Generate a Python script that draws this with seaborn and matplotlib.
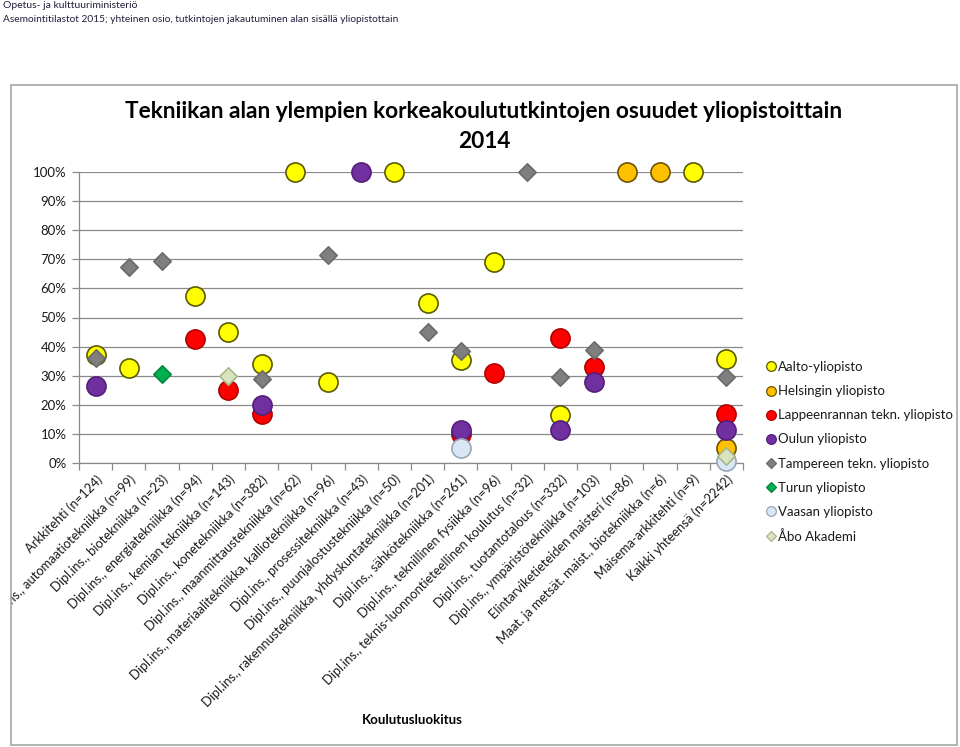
import numpy as np
import pandas as pd
import matplotlib
matplotlib.use('Agg')
import matplotlib.pyplot as plt
import seaborn as sns
from matplotlib.lines import Line2D
from matplotlib.patches import Rectangle
from matplotlib.ticker import FixedLocator, PercentFormatter, NullFormatter

categories = [
    "Arkkitehti (n=124)",
    "Dipl.ins., automaatiotekniikka (n=99)",
    "Dipl.ins., biotekniikka (n=23)",
    "Dipl.ins., energiatekniikka (n=94)",
    "Dipl.ins., kemian tekniikka (n=143)",
    "Dipl.ins., konetekniikka (n=382)",
    "Dipl.ins., maanmittaustekniikka (n=62)",
    "Dipl.ins., materiaalitekniikka, kalliotekniikka (n=96)",
    "Dipl.ins., prosessitekniikka (n=43)",
    "Dipl.ins., puunjalostustekniikka (n=50)",
    "Dipl.ins., rakennustekniikka, yhdyskuntatekniikka (n=201)",
    "Dipl.ins., sähkötekniikka (n=261)",
    "Dipl.ins., teknillinen fysiikka (n=96)",
    "Dipl.ins., teknis-luonnontieteellinen koulutus (n=32)",
    "Dipl.ins., tuotantotalous (n=332)",
    "Dipl.ins., ympäristötekniikka (n=103)",
    "Elintarviketieteiden maisteri (n=86)",
    "Maat. ja metsät. maist., biotekniikka (n=6)",
    "Maisema-arkkitehti (n=9)",
    "Kaikki yhteensä (n=2242)",
]

N = None
aalto =    [0.37, 0.325, N, 0.575, 0.45, 0.34, 1.0, 0.28, N, 1.0, 0.55, 0.355, 0.69, N, 0.165, N, N, N, 1.0, 0.357]
helsinki = [N, N, N, N, N, N, N, N, N, N, N, N, N, N, N, N, 1.0, 1.0, N, 0.05]
lut =      [N, N, N, 0.425, 0.25, 0.167, N, N, N, N, N, 0.10, 0.31, N, 0.43, 0.33, N, N, N, 0.167]
oulu =     [0.265, N, N, N, N, 0.20, N, N, 1.0, N, N, 0.115, N, N, 0.113, 0.28, N, N, N, 0.115]
tampere =  [0.36, 0.675, 0.695, N, N, 0.29, N, 0.715, N, N, 0.45, 0.385, N, 1.0, 0.295, 0.39, N, N, N, 0.295]
turku =    [N, N, 0.305, N, N, N, N, N, N, N, N, N, N, N, N, N, N, N, N, 0.01]
vaasa =    [N, N, N, N, N, N, N, N, N, N, N, 0.05, N, N, N, N, N, N, N, 0.008]
abo =      [N, N, N, N, 0.30, N, N, N, N, N, N, N, N, N, N, N, N, N, N, 0.025]

universities = ["Aalto-yliopisto", "Helsingin yliopisto", "Lappeenrannan tekn. yliopisto",
                "Oulun yliopisto", "Tampereen tekn. yliopisto", "Turun yliopisto",
                "Vaasan yliopisto", "Åbo Akademi"]
series = [aalto, helsinki, lut, oulu, tampere, turku, vaasa, abo]

yticks = [0, 0.1, 0.2, 0.3, 0.4, 0.5, 0.6, 0.7, 0.8, 0.9, 1.0]

styles = {
    "Aalto-yliopisto": dict(marker="o", face="#FFFF00", edge="#5c5a00"),
    "Helsingin yliopisto": dict(marker="o", face="#FFC000", edge="#6e5200"),
    "Lappeenrannan tekn. yliopisto": dict(marker="o", face="#FF0000", edge="#b00000"),
    "Oulun yliopisto": dict(marker="o", face="#7030A0", edge="#55207c"),
    "Tampereen tekn. yliopisto": dict(marker="D", face="#7f7f7f", edge="#6a6a6a"),
    "Turun yliopisto": dict(marker="D", face="#00B050", edge="#00873c"),
    "Vaasan yliopisto": dict(marker="o", face="#D9E7F5", edge="#98a6b6"),
    "Åbo Akademi": dict(marker="D", face="#D7E4BD", edge="#a9b68e"),
}

rows = []
for uni, vals in zip(universities, series):
    for i, v in enumerate(vals):
        if v is not None:
            rows.append(dict(category=categories[i], pos=i, university=uni, share=v))
df = pd.DataFrame(rows)

sns.set_theme(style="white")
plt.rcParams['font.family'] = ['Lato', 'DejaVu Sans']
TXT = "#1a1a1a"
GRID = "#8a8a8a"

W, H = 960, 747
fig = plt.figure(figsize=(W / 100, H / 100), dpi=100)
fig.patch.set_facecolor("white")

# chart frame
frame = Rectangle((11 / W, 1 - 745 / H), (957 - 11) / W, (745 - 85) / H,
                  transform=fig.transFigure, fill=False, edgecolor="#a6a6a6", linewidth=1.2)
fig.add_artist(frame)

ax = fig.add_axes([79 / W, 1 - 463 / H, (743 - 79) / W, (463 - 172) / H])

for z, uni in enumerate(universities):
    st = styles[uni]
    sub = df[df["university"] == uni]
    size = 190 if st["marker"] == "o" else 78
    sns.scatterplot(data=sub, x="pos", y="share", ax=ax, marker=st["marker"],
                    color=st["face"], edgecolor=st["edge"], linewidth=1.2,
                    s=size, zorder=3 + z, clip_on=False, legend=False)

ax.set_xlim(-0.5, len(categories) - 0.5)
ax.set_ylim(0, 1)
ax.yaxis.set_major_locator(FixedLocator(yticks))
ax.yaxis.set_major_formatter(PercentFormatter(1.0, decimals=0))
ax.grid(axis="y", color=GRID, linewidth=0.9)
ax.set_axisbelow(True)

ax.xaxis.set_major_locator(FixedLocator(np.arange(len(categories) + 1) - 0.5))
ax.xaxis.set_major_formatter(NullFormatter())
ax.xaxis.set_minor_locator(FixedLocator(np.arange(len(categories))))
ax.set_xticklabels(categories, minor=True, rotation=45, ha="right",
                   rotation_mode="anchor", fontsize=9.3, color=TXT)
ax.tick_params(axis="x", which="major", length=5, width=0.9, color=GRID, direction="out", bottom=True)
ax.tick_params(axis="x", which="minor", length=0, pad=7, bottom=True)
ax.tick_params(axis="y", which="major", length=5, width=0.9, color=GRID, direction="out",
               left=True, labelsize=9.5, labelcolor=TXT, pad=4)
for sp in ["top", "right"]:
    ax.spines[sp].set_visible(False)
for sp in ["left", "bottom"]:
    ax.spines[sp].set_color(GRID)
    ax.spines[sp].set_linewidth(0.9)
ax.set_xlabel("")
ax.set_ylabel("")

# clip tick labels at frame
clipbox = frame.get_window_extent(fig.canvas.get_renderer())
for lab in ax.get_xticklabels(minor=True):
    lab.set_clip_box(clipbox)
    lab.set_clip_on(True)

# title
fig.text(484 / W, 1 - 111 / H, "Tekniikan alan ylempien korkeakoulututkintojen osuudet yliopistoittain",
         ha="center", va="center", fontsize=16.3, fontweight="bold", color="black")
fig.text(484 / W, 1 - 142 / H, "2014", ha="center", va="center", fontsize=16.3,
         fontweight="bold", color="black")
fig.text(412 / W, 1 - 720 / H, "Koulutusluokitus", ha="center", va="center",
         fontsize=9.5, fontweight="bold", color="black")

# header
fig.text(3 / W, 1 - 6 / H, "Opetus- ja kulttuuriministeriö", ha="left", va="center",
         fontsize=7.5, color="#1f1f3a")
fig.text(3 / W, 1 - 19 / H,
         "Asemointitilastot 2015; yhteinen osio, tutkintojen jakautuminen alan sisällä yliopistottain",
         ha="left", va="center", fontsize=7.3, color="#1f1f3a")

# legend
handles = []
for uni in universities:
    st = styles[uni]
    handles.append(Line2D([], [], linestyle="none", marker=st["marker"],
                          markerfacecolor=st["face"], markeredgecolor=st["edge"],
                          markersize=7 if st["marker"] == "o" else 5.5, markeredgewidth=0.9,
                          label=uni))
leg = ax.legend(handles=handles, loc="upper left", bbox_to_anchor=(766 / W, 1 - 361 / H),
                bbox_transform=fig.transFigure, frameon=False, fontsize=9.5,
                handlelength=0.8, handletextpad=0.1, labelspacing=0.92, borderaxespad=0,
                borderpad=0)
for t in leg.get_texts():
    t.set_color(TXT)

fig.savefig("out.png", dpi=100, facecolor="white")
